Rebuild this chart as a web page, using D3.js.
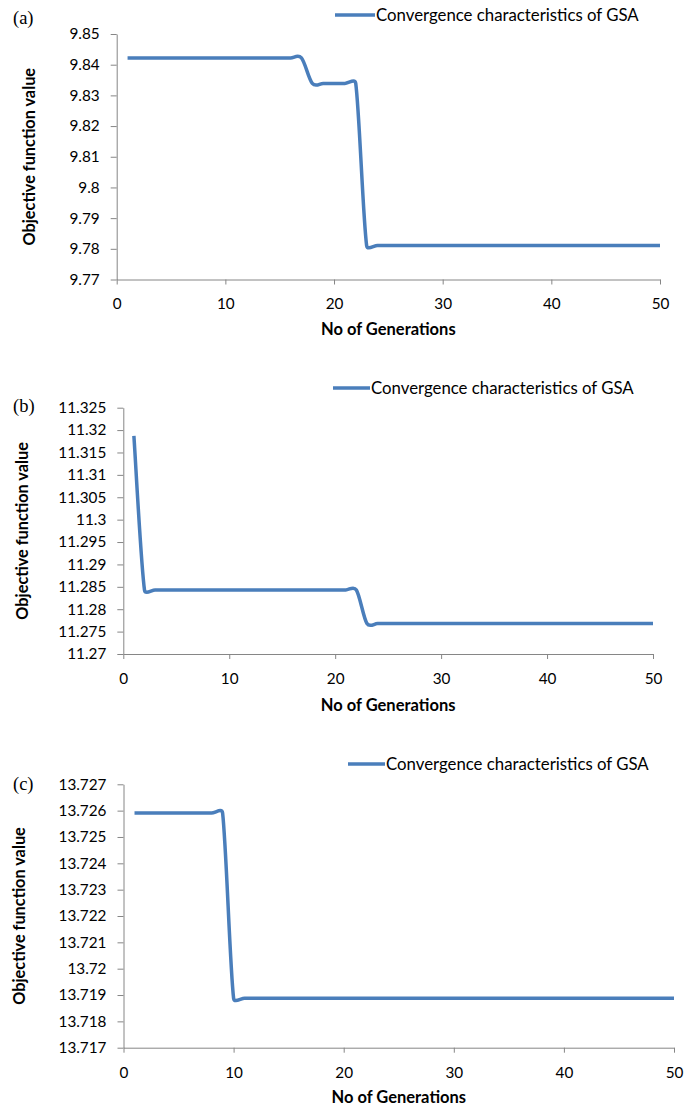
<!DOCTYPE html>
<html>
<head>
<meta charset="utf-8">
<script src="https://cdn.jsdelivr.net/npm/d3@7"></script>
<style>
  body { margin: 0; background: #fff; }
  svg { display: block; }
  .tick text { font-family: Lato, "Open Sans", sans-serif; font-size: 15.3px; fill: #000; }
  .tick line, .domain { stroke: #868686; }
</style>
</head>
<body>
<svg id="chart" width="686" height="1109"></svg>
<script>
// generations 1..50
const generations = [1,2,3,4,5,6,7,8,9,10,11,12,13,14,15,16,17,18,19,20,21,22,23,24,25,
  26,27,28,29,30,31,32,33,34,35,36,37,38,39,40,41,42,43,44,45,46,47,48,49,50];

// (a) objective function value per generation
const valuesA = [9.8422,9.8422,9.8422,9.8422,9.8422,9.8422,9.8422,9.8422,9.8422,9.8422,
  9.8422,9.8422,9.8422,9.8422,9.8422,9.8422,9.8422,9.8339,9.8339,9.8339,
  9.8339,9.8339,9.7811,9.7811,9.7811,9.7811,9.7811,9.7811,9.7811,9.7811,
  9.7811,9.7811,9.7811,9.7811,9.7811,9.7811,9.7811,9.7811,9.7811,9.7811,
  9.7811,9.7811,9.7811,9.7811,9.7811,9.7811,9.7811,9.7811,9.7811,9.7811];

// (b)
const valuesB = [11.3187,11.2843,11.2843,11.2843,11.2843,11.2843,11.2843,11.2843,11.2843,11.2843,
  11.2843,11.2843,11.2843,11.2843,11.2843,11.2843,11.2843,11.2843,11.2843,11.2843,
  11.2843,11.2843,11.2768,11.2768,11.2768,11.2768,11.2768,11.2768,11.2768,11.2768,
  11.2768,11.2768,11.2768,11.2768,11.2768,11.2768,11.2768,11.2768,11.2768,11.2768,
  11.2768,11.2768,11.2768,11.2768,11.2768,11.2768,11.2768,11.2768,11.2768,11.2768];

// (c)
const valuesC = [13.72591,13.72591,13.72591,13.72591,13.72591,13.72591,13.72591,13.72591,13.72591,13.71888,
  13.71888,13.71888,13.71888,13.71888,13.71888,13.71888,13.71888,13.71888,13.71888,13.71888,
  13.71888,13.71888,13.71888,13.71888,13.71888,13.71888,13.71888,13.71888,13.71888,13.71888,
  13.71888,13.71888,13.71888,13.71888,13.71888,13.71888,13.71888,13.71888,13.71888,13.71888,
  13.71888,13.71888,13.71888,13.71888,13.71888,13.71888,13.71888,13.71888,13.71888,13.71888];

const xTicks = [0, 10, 20, 30, 40, 50];
const yTicksA = [9.77, 9.78, 9.79, 9.8, 9.81, 9.82, 9.83, 9.84, 9.85];
const yTicksB = [11.27, 11.275, 11.28, 11.285, 11.29, 11.295, 11.3, 11.305, 11.31, 11.315, 11.32, 11.325];
const yTicksC = [13.717, 13.718, 13.719, 13.72, 13.721, 13.722, 13.723, 13.724, 13.725, 13.726, 13.727];

const seriesName = 'Convergence characteristics of GSA';
const xTitle = 'No of Generations';
const yTitle = 'Objective function value';

// layout of each panel (pixel positions only)
const panels = [
  { tag: '(a)', values: valuesA, yTicks: yTicksA, x0: 116.7, x1: 660, yTop: 34, yBot: 279.5,
    tagY: 24, legX: 335, legLen: 40, legY: 15, yTitleX: 35, xTitleY: 335 },
  { tag: '(b)', values: valuesB, yTicks: yTicksB, x0: 123.3, x1: 653, yTop: 407.7, yBot: 654,
    tagY: 412, legX: 333, legLen: 37, legY: 388, yTitleX: 28, xTitleY: 711 },
  { tag: '(c)', values: valuesC, yTicks: yTicksC, x0: 123.5, x1: 674, yTop: 784.3, yBot: 1047.7,
    tagY: 790, legX: 348, legLen: 37, legY: 764, yTitleX: 25, xTitleY: 1103 }
];

const svg = d3.select('#chart');
const lineColor = '#4a7ebb';
const font = 'Lato, "Open Sans", sans-serif';

// spreadsheet-style smoothed line: bezier with 1/6 tangents,
// each control arm capped at half the segment length
function smoothPath(pts) {
  const path = d3.path();
  path.moveTo(pts[0][0], pts[0][1]);
  const arm = (a, b, len) => {
    let dx = (b[0] - a[0]) / 6, dy = (b[1] - a[1]) / 6;
    const l = Math.hypot(dx, dy);
    if (l > len / 2 && l > 0) { dx *= len / 2 / l; dy *= len / 2 / l; }
    return [dx, dy];
  };
  for (let i = 0; i < pts.length - 1; i++) {
    const p0 = pts[i - 1] || pts[i], p1 = pts[i], p2 = pts[i + 1], p3 = pts[i + 2] || pts[i + 1];
    const d12 = Math.hypot(p2[0] - p1[0], p2[1] - p1[1]);
    const a1 = arm(p0, p2, d12), a2 = arm(p1, p3, d12);
    path.bezierCurveTo(p1[0] + a1[0], p1[1] + a1[1], p2[0] - a2[0], p2[1] - a2[1], p2[0], p2[1]);
  }
  return path.toString();
}

panels.forEach(p => {
  const x = d3.scaleLinear().domain([0, 50]).range([p.x0, p.x1]);
  const y = d3.scaleLinear().domain(d3.extent(p.yTicks)).range([p.yBot, p.yTop]);

  // axes
  svg.append('g')
    .attr('transform', `translate(0,${p.yBot})`)
    .call(d3.axisBottom(x).tickValues(xTicks).tickSize(5).tickSizeOuter(0).tickPadding(14)
      .tickFormat(d3.format('d')));

  svg.append('g')
    .attr('transform', `translate(${p.x0},0)`)
    .call(d3.axisLeft(y).tickValues(p.yTicks).tickSize(6).tickSizeOuter(0).tickPadding(11)
      .tickFormat(d => String(+d.toFixed(4))));

  // series
  const pts = p.values.map((v, i) => [x(generations[i]), y(v)]);
  svg.append('path')
    .attr('d', smoothPath(pts))
    .attr('fill', 'none')
    .attr('stroke', lineColor)
    .attr('stroke-width', 3.5)
    .attr('stroke-linejoin', 'round');

  // titles
  svg.append('text')
    .attr('x', (p.x0 + p.x1) / 2)
    .attr('y', p.xTitleY)
    .attr('text-anchor', 'middle')
    .style('font-family', font)
    .style('font-weight', 'bold')
    .style('font-size', '16.5px')
    .text(xTitle);

  svg.append('text')
    .attr('transform', `translate(${p.yTitleX},${(p.yTop + p.yBot) / 2}) rotate(-90)`)
    .attr('text-anchor', 'middle')
    .style('font-family', font)
    .style('font-weight', 'bold')
    .style('font-size', '16.3px')
    .text(yTitle);

  // panel tag
  svg.append('text')
    .attr('x', 13)
    .attr('y', p.tagY)
    .style('font-family', '"Liberation Serif", "DejaVu Serif", serif')
    .style('font-size', '18.5px')
    .text(p.tag);

  // legend
  svg.append('line')
    .attr('x1', p.legX).attr('x2', p.legX + p.legLen)
    .attr('y1', p.legY).attr('y2', p.legY)
    .attr('stroke', lineColor)
    .attr('stroke-width', 3.5);

  svg.append('text')
    .attr('x', p.legX + p.legLen + 1)
    .attr('y', p.legY + 5.5)
    .style('font-family', font)
    .style('font-size', '16.8px')
    .text(seriesName);
});
</script>
</body>
</html>
